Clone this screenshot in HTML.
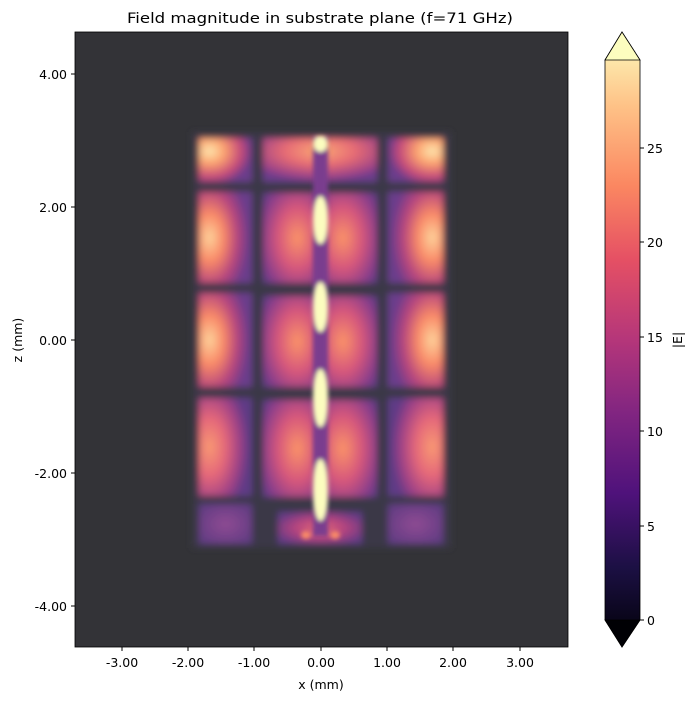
<!DOCTYPE html>
<html><head><style>
body{margin:0;background:#fff;width:693px;height:701px;overflow:hidden;}
</style></head><body>
<svg width="693" height="701" xmlns="http://www.w3.org/2000/svg" font-family="DejaVu Sans, sans-serif">
<defs>
<filter id="b" x="-20%" y="-20%" width="140%" height="140%"><feGaussianBlur stdDeviation="3.5"/></filter>
<filter id="b2" x="-50%" y="-50%" width="200%" height="200%"><feGaussianBlur stdDeviation="2"/></filter>
<radialGradient id="gL" cx="0.2" cy="0.5" r="0.75"><stop offset="0" stop-color="#fdd49c"/><stop offset="0.35" stop-color="#f98a68"/><stop offset="0.7" stop-color="#b5457e"/><stop offset="1" stop-color="#6a3c8c"/></radialGradient>
<radialGradient id="gR" cx="0.8" cy="0.5" r="0.75"><stop offset="0" stop-color="#fdd49c"/><stop offset="0.35" stop-color="#f98a68"/><stop offset="0.7" stop-color="#b5457e"/><stop offset="1" stop-color="#6a3c8c"/></radialGradient>
<radialGradient id="gLt" cx="0.2" cy="0.3" r="0.8"><stop offset="0" stop-color="#fde8b0"/><stop offset="0.35" stop-color="#fca26f"/><stop offset="0.75" stop-color="#c4497a"/><stop offset="1" stop-color="#6a3c8c"/></radialGradient>
<radialGradient id="gRt" cx="0.8" cy="0.3" r="0.8"><stop offset="0" stop-color="#fde8b0"/><stop offset="0.35" stop-color="#fca26f"/><stop offset="0.75" stop-color="#c4497a"/><stop offset="1" stop-color="#6a3c8c"/></radialGradient>
<radialGradient id="gLd" cx="0.2" cy="0.5" r="0.75"><stop offset="0" stop-color="#f99a72"/><stop offset="0.4" stop-color="#e4677a"/><stop offset="0.75" stop-color="#a04286"/><stop offset="1" stop-color="#5e3a86"/></radialGradient>
<radialGradient id="gRd" cx="0.8" cy="0.5" r="0.75"><stop offset="0" stop-color="#f99a72"/><stop offset="0.4" stop-color="#e4677a"/><stop offset="0.75" stop-color="#a04286"/><stop offset="1" stop-color="#5e3a86"/></radialGradient>
<radialGradient id="gC1" cx="0.6" cy="0.5" r="0.75"><stop offset="0" stop-color="#fb9468"/><stop offset="0.45" stop-color="#d6577c"/><stop offset="0.8" stop-color="#8e3f8a"/><stop offset="1" stop-color="#5e3a86"/></radialGradient>
<radialGradient id="gC2" cx="0.4" cy="0.5" r="0.75"><stop offset="0" stop-color="#fb9468"/><stop offset="0.45" stop-color="#d6577c"/><stop offset="0.8" stop-color="#8e3f8a"/><stop offset="1" stop-color="#5e3a86"/></radialGradient>
<radialGradient id="gCt" cx="0.5" cy="0.3" r="0.7"><stop offset="0" stop-color="#fcab73"/><stop offset="0.45" stop-color="#e66b74"/><stop offset="0.85" stop-color="#9a4288"/><stop offset="1" stop-color="#6a3c8c"/></radialGradient>
<radialGradient id="gC" cx="0.5" cy="0.5" r="0.6"><stop offset="0" stop-color="#e66b74"/><stop offset="0.5" stop-color="#b4447f"/><stop offset="1" stop-color="#5e3a86"/></radialGradient>
<radialGradient id="gP" cx="0.5" cy="0.5" r="0.7"><stop offset="0" stop-color="#8f4a93"/><stop offset="1" stop-color="#5a3a80"/></radialGradient>
<linearGradient id="cb" x1="0" y1="1" x2="0" y2="0">
<stop offset="0" stop-color="#000004"/><stop offset="0.13" stop-color="#1c1044"/><stop offset="0.25" stop-color="#4f127b"/><stop offset="0.38" stop-color="#812581"/><stop offset="0.5" stop-color="#b5367a"/><stop offset="0.63" stop-color="#e55064"/><stop offset="0.75" stop-color="#fb8761"/><stop offset="0.88" stop-color="#fec287"/><stop offset="1" stop-color="#fcfdbf"/></linearGradient>
<clipPath id="pc"><rect x="75" y="32" width="493" height="615"/></clipPath>
</defs>
<text x="320" y="23" font-size="14" text-anchor="middle" fill="#000" textLength="386" lengthAdjust="spacingAndGlyphs">Field magnitude in substrate plane (f=71 GHz)</text>
<g clip-path="url(#pc)">
<rect x="75" y="32" width="493" height="615" fill="#333337"/>
<g filter="url(#b)">
<rect x="192" y="132" width="259" height="416" fill="#3b3747"/>
<rect x="199" y="138" width="53" height="44" fill="url(#gLt)"/>
<rect x="263" y="138" width="114" height="44" fill="url(#gCt)"/>
<rect x="388" y="138" width="55" height="44" fill="url(#gRt)"/>
<rect x="199" y="192" width="53" height="91" fill="url(#gL)"/>
<rect x="263" y="193" width="57" height="90" fill="url(#gC1)"/>
<rect x="320" y="193" width="57" height="90" fill="url(#gC2)"/>
<rect x="388" y="192" width="55" height="91" fill="url(#gR)"/>
<rect x="199" y="293" width="53" height="94" fill="url(#gL)"/>
<rect x="263" y="296" width="57" height="91" fill="url(#gC1)"/>
<rect x="320" y="296" width="57" height="91" fill="url(#gC2)"/>
<rect x="388" y="293" width="55" height="94" fill="url(#gR)"/>
<rect x="199" y="398" width="53" height="98" fill="url(#gLd)"/>
<rect x="263" y="400" width="57" height="97" fill="url(#gC1)"/>
<rect x="320" y="400" width="57" height="97" fill="url(#gC2)"/>
<rect x="388" y="398" width="55" height="98" fill="url(#gRd)"/>
<rect x="199" y="504" width="53" height="40" fill="url(#gP)"/>
<rect x="278" y="512" width="84" height="32" fill="url(#gC)"/>
<rect x="388" y="504" width="55" height="40" fill="url(#gP)"/>
</g>
<g filter="url(#b2)">
<rect x="313" y="136" width="15" height="400" fill="#7a3e8e"/>
<ellipse cx="320.5" cy="144" rx="7" ry="8" fill="#fcfdbf"/>
<ellipse cx="320.5" cy="220" rx="7.5" ry="24" fill="#fcfdbf"/>
<ellipse cx="320.5" cy="307" rx="7.5" ry="25" fill="#fcfdbf"/>
<ellipse cx="320.5" cy="398" rx="7.5" ry="29" fill="#fcfdbf"/>
<ellipse cx="320.5" cy="490" rx="7.5" ry="31" fill="#fcfdbf"/>
<ellipse cx="306" cy="535" rx="5" ry="4" fill="#f98a68"/>
<ellipse cx="335" cy="535" rx="5" ry="4" fill="#f98a68"/>
</g>
</g>
<rect x="75" y="32" width="493" height="615" fill="none" stroke="#000" stroke-width="0.8"/>
<g font-size="12.5" fill="#000" text-anchor="middle">
<line x1="122" y1="647" x2="122" y2="651" stroke="#000"/><text x="122" y="667">-3.00</text>
<line x1="188" y1="647" x2="188" y2="651" stroke="#000"/><text x="188" y="667">-2.00</text>
<line x1="254" y1="647" x2="254" y2="651" stroke="#000"/><text x="254" y="667">-1.00</text>
<line x1="321" y1="647" x2="321" y2="651" stroke="#000"/><text x="321" y="667">0.00</text>
<line x1="387" y1="647" x2="387" y2="651" stroke="#000"/><text x="387" y="667">1.00</text>
<line x1="453" y1="647" x2="453" y2="651" stroke="#000"/><text x="453" y="667">2.00</text>
<line x1="520" y1="647" x2="520" y2="651" stroke="#000"/><text x="520" y="667">3.00</text>
<text x="321" y="689">x (mm)</text>
</g>
<g font-size="12.5" fill="#000" text-anchor="end">
<line x1="71" y1="74" x2="75" y2="74" stroke="#000"/><text x="67" y="79">4.00</text>
<line x1="71" y1="207" x2="75" y2="207" stroke="#000"/><text x="67" y="212">2.00</text>
<line x1="71" y1="340" x2="75" y2="340" stroke="#000"/><text x="67" y="345">0.00</text>
<line x1="71" y1="473" x2="75" y2="473" stroke="#000"/><text x="67" y="478">-2.00</text>
<line x1="71" y1="606" x2="75" y2="606" stroke="#000"/><text x="67" y="611">-4.00</text>
</g>
<text transform="translate(22,340) rotate(-90)" font-size="12.5" text-anchor="middle">z (mm)</text>
<polygon points="605,60 622,32 640,60 640,620 622,647 605,620" fill="url(#cb)" stroke="#000" stroke-width="0.8"/>
<polygon points="605,60 622,32 640,60" fill="#fcfdbf" stroke="#000" stroke-width="0.8"/>
<polygon points="605,620 622,647 640,620" fill="#000004" stroke="#000" stroke-width="0.8"/>
<g font-size="12.5" fill="#000">
<line x1="640" y1="620" x2="644" y2="620" stroke="#000"/><text x="647" y="625">0</text>
<line x1="640" y1="526" x2="644" y2="526" stroke="#000"/><text x="647" y="531">5</text>
<line x1="640" y1="431" x2="644" y2="431" stroke="#000"/><text x="647" y="436">10</text>
<line x1="640" y1="337" x2="644" y2="337" stroke="#000"/><text x="647" y="342">15</text>
<line x1="640" y1="242" x2="644" y2="242" stroke="#000"/><text x="647" y="247">20</text>
<line x1="640" y1="148" x2="644" y2="148" stroke="#000"/><text x="647" y="153">25</text>
</g>
<text transform="translate(682,340) rotate(-90)" font-size="12.5" text-anchor="middle">|E|</text>
</svg>
</body></html>
